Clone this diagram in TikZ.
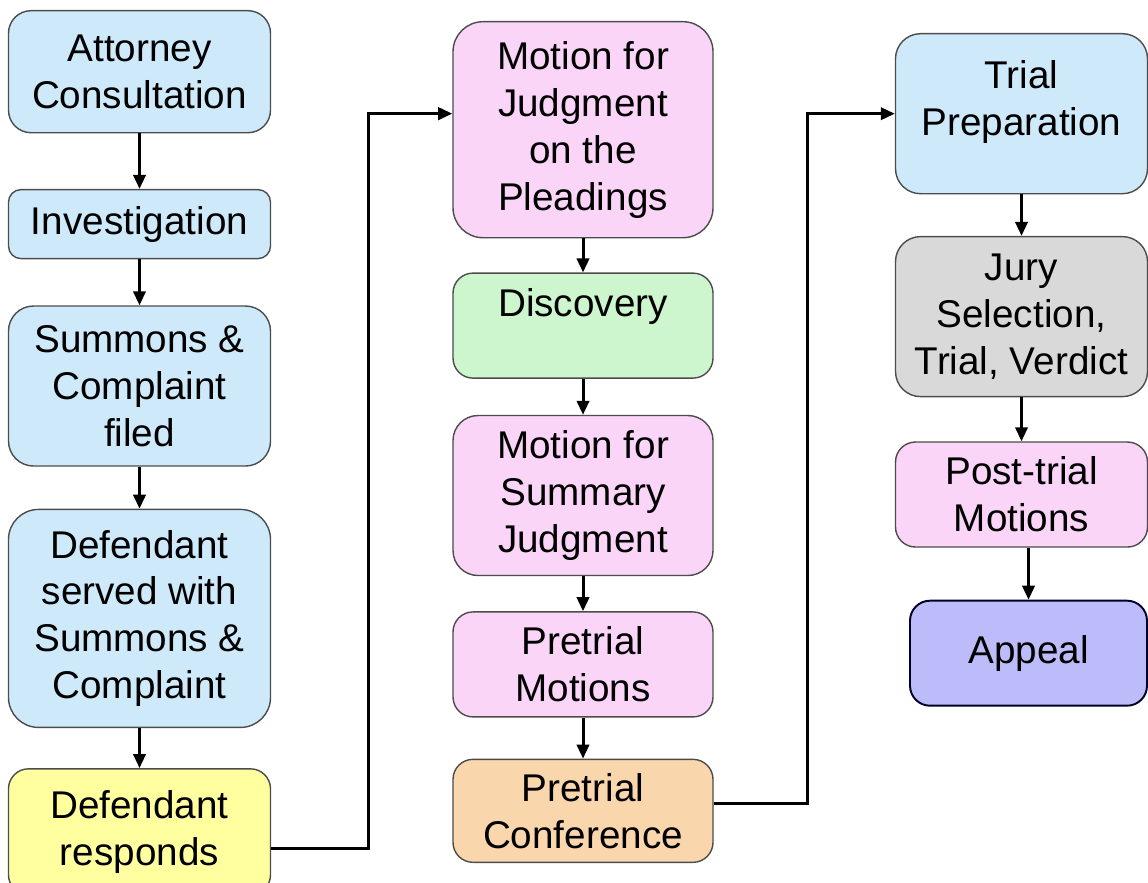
\documentclass[tikz,border=0pt]{standalone}
\usepackage{fontspec}
\setmainfont{Liberation Sans}
\usepackage{xcolor}
\usetikzlibrary{positioning,arrows.meta}

\definecolor{lblue}{RGB}{206,234,250}
\definecolor{lpink}{RGB}{250,213,248}
\definecolor{lgreen}{RGB}{206,246,206}
\definecolor{lyellow}{RGB}{255,255,160}
\definecolor{lpeach}{RGB}{250,214,172}
\definecolor{lgrey}{RGB}{217,217,217}
\definecolor{lviolet}{RGB}{188,188,250}

\begin{document}
\begin{tikzpicture}[
            stage/.style={rectangle, draw=black!70, line width=0.8pt, rounded corners=0.4cm, align=center, inner sep=2pt, minimum width=5.24cm, font=\fontsize{22}{26.7}\selectfont},
            flow/.style={line width=1.7pt, draw=black, -{Triangle[length=8pt,width=7pt]}}
        ]
        \useasboundingbox (0,0) rectangle (22.96,-17.64);
        
        % Left column: case opening
        \node[stage, fill=lblue, minimum height=2.44cm, rounded corners=0.45cm, anchor=north] (att) at (2.79,-0.2) {Attorney\\Consultation};
        \node[stage, fill=lblue, minimum height=1.38cm, rounded corners=0.25cm] (inv) [below=1.11cm of att] {Investigation};
        \node[stage, fill=lblue, minimum height=3.2cm, rounded corners=0.5cm] (sum) [below=0.92cm of inv] {Summons \&\\Complaint\\filed};
        \node[stage, fill=lblue, minimum height=4.36cm, rounded corners=0.6cm] (serv) [below=0.84cm of sum] {Defendant\\served with\\Summons \&\\Complaint};
        \node[stage, fill=lyellow, minimum height=2.52cm] (resp) [below=0.8cm of serv] {Defendant\\responds};
        
        % Middle column: pretrial
        \node[stage, fill=lpink, minimum width=5.2cm, minimum height=4.32cm, rounded corners=0.6cm, anchor=north] (mjp) at (11.66,-0.42) {Motion for\\Judgment\\on the\\Pleadings};
        \node[stage, fill=lgreen, minimum width=5.2cm, minimum height=2.1cm] (disc) [below=0.68cm of mjp] {Discovery\\~};
        \node[stage, fill=lpink, minimum width=5.2cm, minimum height=3.2cm, rounded corners=0.5cm] (msj) [below=0.72cm of disc] {Motion for\\Summary\\Judgment};
        \node[stage, fill=lpink, minimum width=5.2cm, minimum height=2.1cm] (ptm) [below=0.7cm of msj] {Pretrial\\Motions};
        \node[stage, fill=lpeach, minimum width=5.2cm, minimum height=2.06cm] (ptc) [below=0.82cm of ptm] {Pretrial\\Conference};
        
        % Right column: trial and after
        \node[stage, fill=lblue, minimum width=5.04cm, minimum height=3.2cm, rounded corners=0.5cm, anchor=north] (tprep) at (20.43,-0.66) {Trial\\Preparation\\[-0.3cm]~};
        \node[stage, fill=lgrey, minimum width=5.04cm, minimum height=3.2cm, rounded corners=0.5cm] (jury) [below=0.83cm of tprep] {Jury\\Selection,\\Trial, Verdict};
        \node[stage, fill=lpink, minimum width=5.04cm, minimum height=2.1cm] (post) [below=0.88cm of jury] {Post-trial\\Motions};
        \node[stage, fill=lviolet, draw=black!85!blue, line width=1.1pt, minimum width=4.74cm, minimum height=2.1cm] (app) [below=1.04cm of post, xshift=0.14cm] {Appeal};
        
        % Steps within each column
        \draw[flow] (att) -- (inv);
        \draw[flow] (inv) -- (sum);
        \draw[flow] (sum) -- (serv);
        \draw[flow] (serv) -- (resp);
        \draw[flow] (mjp) -- (disc);
        \draw[flow] (disc) -- (msj);
        \draw[flow] (msj) -- (ptm);
        \draw[flow] (ptm) -- (ptc);
        \draw[flow] (tprep) -- (jury);
        \draw[flow] (jury) -- (post);
        \draw[flow] (post.south -| app.north) -- (app.north);
        
        % Jumps between columns
        \draw[flow] (resp.-7.4) -- ++(1.94,0) |- (mjp.173.9);
        \draw[flow] (ptc.3.7) -- ++(1.88,0) |- (tprep.west);
        
        \end{tikzpicture}
\end{document}
